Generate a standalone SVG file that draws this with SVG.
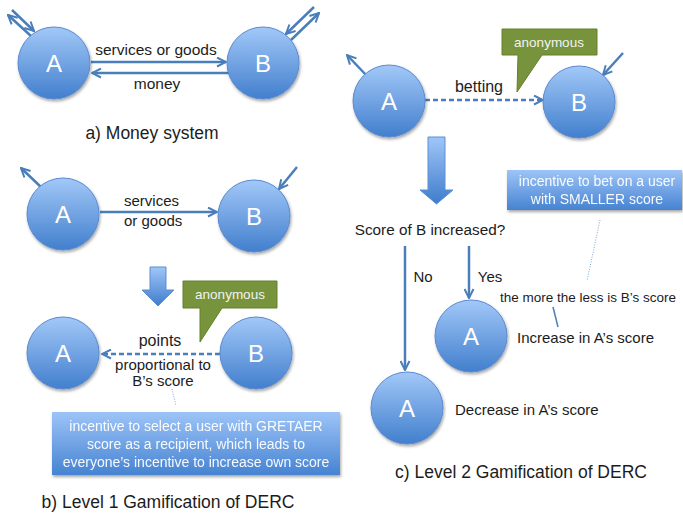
<svg xmlns="http://www.w3.org/2000/svg" width="683" height="513" viewBox="0 0 683 513">
  <style>
    .txt { font-family: "Liberation Sans", Arial, sans-serif; fill: #1c1c1c; }
    .lbl { font-size: 15px; }
    .cap { font-size: 17.5px; }
    .node circle { fill: url(#ballGrad); stroke: #5a8ad0; stroke-width: 1; filter: url(#shadow); }
    .node text { font-family: "Liberation Sans", Arial, sans-serif; font-size: 24px; fill: #ffffff; text-anchor: middle; }
    .conn { stroke: #4a7ebb; stroke-width: 2.5; fill: none; }
    .dash { stroke-dasharray: 5 3; }
    .dot { stroke: #7ea6da; stroke-width: 1; stroke-dasharray: 1 1.5; fill: none; }
    .tie { stroke: #4f81bd; stroke-width: 1.5; fill: none; }
    .note rect { fill: url(#boxGrad); filter: url(#shadow); }
    .note text { font-family: "Liberation Sans", Arial, sans-serif; font-size: 14px; fill: #ffffff; text-anchor: middle; opacity: 0.95; }
    .callout polygon { fill: #77933c; stroke: #62802c; stroke-width: 1; }
    .callout text { font-family: "Liberation Sans", Arial, sans-serif; font-size: 13.5px; fill: #f2f2f2; text-anchor: middle; }
    .block { fill: url(#blockGrad); stroke: #5d8fd2; stroke-width: 1; }
  </style>
  <defs>
    <linearGradient id="ballGrad" x1="0" y1="0" x2="0" y2="1">
      <stop offset="0" stop-color="#a2c8f8"/>
      <stop offset="1" stop-color="#427fcd"/>
    </linearGradient>
    <linearGradient id="boxGrad" x1="0" y1="0" x2="0" y2="1">
      <stop offset="0" stop-color="#9dc4f8"/>
      <stop offset="1" stop-color="#4683d1"/>
    </linearGradient>
    <linearGradient id="blockGrad" x1="0" y1="0" x2="0" y2="1">
      <stop offset="0" stop-color="#a0c6f8"/>
      <stop offset="1" stop-color="#3f7ccc"/>
    </linearGradient>
    <filter id="shadow" x="-20%" y="-20%" width="150%" height="150%">
      <feDropShadow dx="1" dy="2" stdDeviation="1.5" flood-color="#000" flood-opacity="0.35"/>
    </filter>
    <marker id="head" viewBox="0 0 11 11" refX="10" refY="5.5" markerWidth="11" markerHeight="11" markerUnits="userSpaceOnUse" orient="auto">
      <path d="M1,1 L10,5.5 L1,10" fill="none" stroke="#4a7ebb" stroke-width="2"/>
    </marker>
  </defs>

  <!-- connectors -->
  <g id="connectors">
    <!-- a) money system -->
    <line class="conn" x1="91" y1="62" x2="226" y2="62" marker-end="url(#head)"/>
    <line class="conn" x1="229" y1="73" x2="92" y2="73" marker-end="url(#head)"/>
    <line class="conn" x1="31" y1="36" x2="8" y2="15" marker-end="url(#head)"/>
    <line class="conn" x1="12" y1="10" x2="34" y2="31" marker-end="url(#head)"/>
    <line class="conn" x1="291" y1="40" x2="319" y2="13" marker-end="url(#head)"/>
    <line class="conn" x1="314" y1="7" x2="286" y2="34" marker-end="url(#head)"/>

    <!-- b) level 1 -->
    <line class="conn" x1="100" y1="212" x2="217" y2="212" marker-end="url(#head)"/>
    <line class="conn" x1="42" y1="188" x2="21" y2="168" marker-end="url(#head)"/>
    <line class="conn" x1="297" y1="167" x2="279" y2="189" marker-end="url(#head)"/>
    <line class="conn dash" x1="220" y1="354" x2="102" y2="354" marker-end="url(#head)"/>
    <line class="dot" x1="172" y1="389" x2="176" y2="406"/>

    <!-- c) level 2 -->
    <line class="conn dash" x1="425" y1="100" x2="543" y2="100" marker-end="url(#head)"/>
    <line class="conn" x1="367" y1="76" x2="347" y2="55" marker-end="url(#head)"/>
    <line class="conn" x1="623" y1="53" x2="603" y2="75" marker-end="url(#head)"/>
    <line class="conn" x1="405" y1="246" x2="405" y2="370" marker-end="url(#head)"/>
    <line class="conn" x1="469" y1="246" x2="469" y2="298" marker-end="url(#head)"/>
    <line class="tie" x1="553" y1="307" x2="558" y2="327"/>
    <line class="dot" x1="600" y1="220" x2="587" y2="281"/>
  </g>

  <!-- a) money system -->
  <g id="a-nodeA" class="node"><circle cx="54" cy="63" r="36"/><text x="54" y="72">A</text></g>
  <g id="a-nodeB" class="node"><circle cx="263" cy="63" r="36"/><text x="263" y="72">B</text></g>
  <text class="txt" x="156" y="55" font-size="15.5" text-anchor="middle">services or goods</text>
  <text class="txt" x="157" y="89" font-size="15.5" text-anchor="middle">money</text>
  <text class="txt cap" x="152" y="139" text-anchor="middle">a) Money system</text>

  <!-- b) level 1 -->
  <g id="b-nodeA" class="node"><circle cx="63" cy="214" r="36"/><text x="63" y="223">A</text></g>
  <g id="b-nodeB" class="node"><circle cx="254" cy="216" r="36"/><text x="254" y="225">B</text></g>
  <text class="txt lbl" x="124" y="206">services</text>
  <text class="txt lbl" x="124" y="226">or goods</text>
  <polygon id="b-step" class="block" points="150,267 166,267 166,290 174,290 158,306 142,290 150,290"/>
  <g id="b-anon" class="callout">
    <polygon points="183,281 277,281 277,308 222,308 200,342 200,308 183,308"/>
    <text x="230" y="299">anonymous</text>
  </g>
  <g id="b-nodeA2" class="node"><circle cx="63" cy="353" r="36"/><text x="63" y="362">A</text></g>
  <g id="b-nodeB2" class="node"><circle cx="256" cy="353" r="36"/><text x="256" y="362">B</text></g>
  <text class="txt" x="160" y="346" font-size="16" text-anchor="middle">points</text>
  <text class="txt lbl" x="163" y="370" text-anchor="middle">proportional to</text>
  <text class="txt lbl" x="163" y="386" text-anchor="middle">B’s score</text>
  <g id="b-note" class="note">
    <rect x="52" y="412" width="288" height="63"/>
    <text x="196" y="431">incentive to select a user with GRETAER</text>
    <text x="196" y="449">score as a recipient, which leads to</text>
    <text x="196" y="467">everyone’s incentive to increase own score</text>
  </g>
  <text class="txt cap" x="168" y="508" text-anchor="middle">b) Level 1 Gamification of DERC</text>

  <!-- c) level 2 -->
  <g id="c-nodeA" class="node"><circle cx="389" cy="101" r="36"/><text x="389" y="110">A</text></g>
  <g id="c-nodeB" class="node"><circle cx="579" cy="102" r="36"/><text x="579" y="111">B</text></g>
  <text class="txt" x="479" y="92" font-size="16" text-anchor="middle">betting</text>
  <g id="c-anon" class="callout">
    <polygon points="502,29 597,29 597,55 542,55 517,92 518,55 502,55"/>
    <text x="549" y="47">anonymous</text>
  </g>
  <polygon id="c-step" class="block" points="428,137 445,137 445,190 453,190 436.5,204 420,190 428,190"/>
  <g id="c-note" class="note">
    <rect x="507" y="170" width="175" height="40"/>
    <text x="597" y="186">incentive to bet on a user</text>
    <text x="597" y="204">with SMALLER score</text>
  </g>
  <text class="txt" x="430" y="235" font-size="15.3" text-anchor="middle">Score of B increased?</text>
  <text class="txt lbl" x="423" y="282" text-anchor="middle">No</text>
  <text class="txt lbl" x="490" y="282" text-anchor="middle">Yes</text>
  <text class="txt" x="588" y="302" font-size="13.5" text-anchor="middle">the more the less is B’s score</text>
  <g id="c-nodeYes" class="node"><circle cx="471" cy="336" r="36"/><text x="471" y="345">A</text></g>
  <text class="txt lbl" x="517" y="343">Increase in A’s score</text>
  <g id="c-nodeNo" class="node"><circle cx="407" cy="408" r="36"/><text x="407" y="417">A</text></g>
  <text class="txt lbl" x="455" y="415">Decrease in A’s score</text>
  <text class="txt cap" x="521" y="478" text-anchor="middle">c) Level 2 Gamification of DERC</text>
</svg>
